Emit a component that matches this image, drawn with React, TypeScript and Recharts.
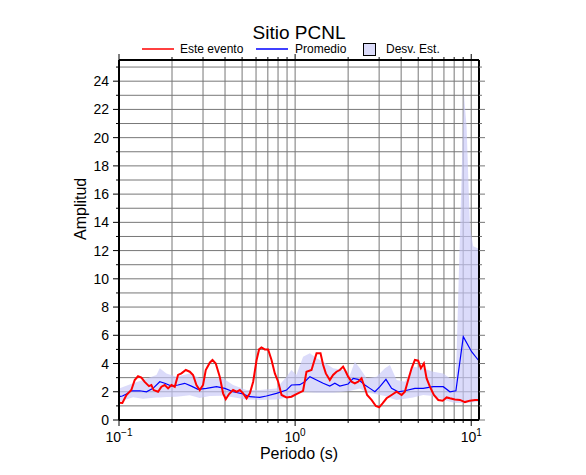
import { Area, CartesianGrid, ComposedChart, Line, XAxis, YAxis } from 'recharts'

const FONT = '"Liberation Sans", Arial, Helvetica, sans-serif'

// Este evento
const eventPeriod = [
  0.1, 0.1045, 0.1102, 0.1175, 0.1228, 0.1282, 0.134, 0.1399, 0.148, 0.1527, 0.1573, 0.1666, 0.1742, 0.1819,
  0.19, 0.1985, 0.2073, 0.2164, 0.2262, 0.2395, 0.2522, 0.2634, 0.2752, 0.2874, 0.3001, 0.3109, 0.3277, 0.3395,
  0.3543, 0.3733, 0.3899, 0.4038, 0.4217, 0.4444, 0.4648, 0.4853, 0.5068, 0.53, 0.5534, 0.5779, 0.6043, 0.6243,
  0.644, 0.6726, 0.7027, 0.7346, 0.7672, 0.8013, 0.8376, 0.8937, 0.9534, 1.017, 1.11, 1.16, 1.239, 1.323, 1.394,
  1.443, 1.494, 1.574, 1.643, 1.718, 1.794, 1.873, 1.941, 2.001, 2.091, 2.183, 2.28, 2.384, 2.456, 2.563, 2.716,
  2.874, 3.001, 3.137, 3.306, 3.53, 3.77, 4.025, 4.2, 4.386, 4.586, 4.788, 5.0, 5.177, 5.385, 5.58, 5.826, 6.136,
  6.5, 6.885, 7.249, 7.569, 8.078, 8.626, 9.21, 9.834, 10.5, 10.96,
]
const eventAmp = [
  1.22, 1.2, 1.77, 2.12, 2.83, 3.1, 3.0, 2.7, 2.4, 2.48, 2.12, 2.0, 2.36, 2.48,
  2.24, 2.48, 2.36, 3.19, 3.3, 3.54, 3.42, 3.19, 2.48, 2.12, 2.48, 3.54, 4.06, 4.25,
  4.0, 3.07, 1.89, 1.47, 1.84, 2.12, 2.0, 2.12, 1.89, 1.53, 1.89, 2.71, 4.25, 5.0,
  5.14, 5.0, 5.0, 4.25, 3.3, 2.71, 1.77, 1.6, 1.65, 1.84, 2.07, 3.42, 3.54, 4.72, 4.72,
  3.89, 3.3, 2.83, 3.19, 3.42, 3.54, 3.78, 3.42, 3.07, 2.71, 2.6, 2.71, 2.95, 2.48, 1.77, 1.42,
  0.99, 0.9, 1.18, 1.54, 1.77, 2.0, 1.77, 2.0, 2.83, 3.66, 4.25, 4.2, 3.66, 4.0, 2.95, 2.36, 1.77,
  1.42, 1.37, 1.6, 1.54, 1.46, 1.42, 1.27, 1.37, 1.42, 1.42,
]

// Promedio
const meanPeriod = [
  0.1, 0.1045, 0.1102, 0.1175, 0.1312, 0.1432, 0.1561, 0.1704, 0.1819, 0.1985, 0.2164, 0.2361, 0.2577, 0.2811,
  0.3138, 0.3575, 0.399, 0.4444, 0.5068, 0.5534, 0.6301, 0.6873, 0.7834, 0.8937, 0.9534, 1.064, 1.135, 1.213,
  1.323, 1.443, 1.574, 1.681, 1.794, 2.001, 2.137, 2.28, 2.49, 2.659, 2.839, 3.03, 3.279, 3.53, 3.845, 4.2, 4.788,
  5.335, 6.082, 6.938, 7.569, 8.185, 9.016, 10.05, 10.96,
]
const meanAmp = [
  1.65, 1.7, 1.84, 2.07, 2.07, 2.0, 2.24, 2.71, 2.6, 2.4, 2.48, 2.6, 2.4, 2.17,
  2.24, 2.36, 2.24, 2.0, 1.84, 1.65, 1.6, 1.7, 1.89, 2.12, 2.48, 2.5, 2.71, 3.07,
  2.83, 2.6, 2.4, 2.6, 2.4, 2.55, 2.95, 2.88, 2.48, 2.24, 2.0, 2.36, 2.88, 2.24, 2.0, 2.07, 2.24,
  2.24, 2.36, 2.36, 2.0, 2.07, 5.9, 4.84, 4.25,
]

// Desv. Est.
const sdPeriod = [
  0.1, 0.1201, 0.1368, 0.1632, 0.1704, 0.1859, 0.2118, 0.2522, 0.2874, 0.3277, 0.3899, 0.4444, 0.53, 0.6301,
  0.7834, 0.8937, 0.9534, 1.017, 1.11, 1.213, 1.323, 1.443, 1.643, 1.873, 2.047, 2.183, 2.334, 2.546, 2.898,
  3.237, 3.455, 3.77, 4.2, 4.677, 5.335, 6.082, 6.938, 7.569, 8.185, 9.084, 9.41, 9.834, 10.26, 10.96,
]
const sdLow = [
  1.3, 1.62, 1.5, 1.6, 1.6, 1.63, 1.65, 1.75, 1.56, 1.7, 1.72, 1.62, 1.45, 1.42,
  1.45, 1.6, 1.7, 1.8, 2.0, 1.97, 1.93, 1.93, 1.93, 2.0, 2.05, 2.15, 2.24, 1.95, 1.82,
  1.7, 1.55, 1.42, 1.5, 1.6, 1.77, 1.7, 1.45, 1.3, 1.2, 1.2, 1.2, 1.22, 1.25, 1.3,
]
const sdHigh = [
  2.24, 2.6, 2.83, 3.19, 3.66, 3.3, 3.07, 3.3, 2.95, 2.95, 2.95, 2.48, 2.12, 2.12,
  2.24, 3.07, 3.54, 3.19, 4.48, 4.72, 4.37, 4.13, 3.66, 3.54, 3.19, 4.13, 3.66, 2.95, 3.07,
  3.66, 3.89, 2.83, 2.71, 3.78, 3.66, 3.42, 3.3, 2.95, 2.9, 23.1, 20.8, 13.7, 12.3, 12.15,
]

const xTicks = [
  0.1, 0.2, 0.3, 0.4, 0.5, 0.6, 0.7, 0.8, 0.9, 1, 2, 3, 4, 5, 6, 7, 8, 9, 10,
]
const xMajor = [0.1, 1, 10]
const xLabels = ['\u22121', '0', '1']
const yTicks = [
  0, 1, 2, 3, 4, 5, 6, 7, 8, 9, 10, 11, 12, 13, 14, 15, 16, 17, 18, 19, 20, 21, 22, 23, 24, 25,
]

const eventData = eventPeriod.map((p, i) => ({ p, v: eventAmp[i] }))
const meanData = meanPeriod.map((p, i) => ({ p, v: meanAmp[i] }))
const sdData = sdPeriod.map((p, i) => ({ p, band: [sdLow[i], sdHigh[i]] }))

function BottomTick({ x, y, payload }: any) {
  const idx = xMajor.indexOf(payload.value)
  const len = idx >= 0 ? 6 : 3
  return (
    <g>
      <line x1={x} x2={x} y1={y} y2={y + len} stroke="#000" />
      {idx >= 0 && (
        <text x={x} y={y + 22} textAnchor="middle" fontSize={14} fontFamily={FONT} fill="#000">
          10<tspan dy={-6} fontSize={10}>{xLabels[idx]}</tspan>
        </text>
      )}
    </g>
  )
}

function TopTick({ x, y, payload }: any) {
  const len = xMajor.indexOf(payload.value) >= 0 ? 6 : 3
  return <line x1={x} x2={x} y1={y} y2={y - len} stroke="#000" />
}

function LeftTick({ x, y, payload }: any) {
  const major = payload.value % 2 === 0
  return (
    <g>
      <line x1={x} x2={x - (major ? 6 : 3)} y1={y} y2={y} stroke="#000" />
      {major && (
        <text x={x - 10} y={y + 5} textAnchor="end" fontSize={14} fontFamily={FONT} fill="#000">
          {payload.value}
        </text>
      )}
    </g>
  )
}

function RightTick({ x, y, payload }: any) {
  const major = payload.value % 2 === 0
  return <line x1={x} x2={x + (major ? 6 : 3)} y1={y} y2={y} stroke="#777" />
}

export default function App() {
  return (
    <div style={{ position: 'absolute', left: 0, top: 0, width: 586, height: 475, background: '#fff', fontFamily: FONT }}>
      <div style={{ position: 'absolute', left: 0, width: 598, top: 22, textAlign: 'center', fontSize: 19 }}>
        Sitio PCNL
      </div>
      <svg width={586} height={60} style={{ position: 'absolute', left: 0, top: 0 }}>
        <line x1={142} x2={174} y1={49} y2={49} stroke="#ff0000" strokeWidth={1.5} />
        <text x={180} y={53} fontSize={12} fontFamily={FONT}>Este evento</text>
        <line x1={256} x2={288} y1={49} y2={49} stroke="#0000ff" strokeWidth={1.5} />
        <text x={295} y={53} fontSize={12} fontFamily={FONT}>Promedio</text>
        <rect x={363.5} y={43.5} width={12} height={12} fill="#dcdcfa" stroke="#000" />
        <text x={386} y={53} fontSize={12} fontFamily={FONT}>Desv. Est.</text>
      </svg>
      <ComposedChart width={586} height={475} margin={{ top: 50, right: 97, bottom: 25, left: 69 }}>
        <CartesianGrid stroke="#777" strokeWidth={1} />
        <XAxis
          type="number"
          dataKey="p"
          scale="log"
          domain={[0.1, 11.07]}
          allowDataOverflow
          ticks={xTicks}
          interval={0}
          height={30}
          tickSize={0}
          tickMargin={0}
          tickLine={false}
          tick={<BottomTick />}
          axisLine={{ stroke: '#000', strokeWidth: 2 }}
        />
        <XAxis
          xAxisId="top"
          orientation="top"
          type="number"
          dataKey="p"
          scale="log"
          domain={[0.1, 11.07]}
          allowDataOverflow
          ticks={xTicks}
          interval={0}
          height={10}
          tickSize={0}
          tickMargin={0}
          tickLine={false}
          tick={<TopTick />}
          axisLine={{ stroke: '#000', strokeWidth: 2 }}
        />
        <YAxis
          type="number"
          domain={[0, 25.5]}
          allowDataOverflow
          ticks={yTicks}
          interval={0}
          width={50}
          tickSize={0}
          tickMargin={0}
          tickLine={false}
          tick={<LeftTick />}
          axisLine={{ stroke: '#000', strokeWidth: 2 }}
          label={{ value: 'Amplitud', angle: -90, position: 'insideLeft', offset: 0, dx: 11, fontSize: 16, fill: '#000', fontFamily: FONT }}
        />
        <YAxis
          yAxisId="right"
          orientation="right"
          type="number"
          domain={[0, 25.5]}
          allowDataOverflow
          ticks={yTicks}
          interval={0}
          width={10}
          tickSize={0}
          tickMargin={0}
          tickLine={false}
          tick={<RightTick />}
          axisLine={{ stroke: '#000', strokeWidth: 2 }}
        />
        <Area
          data={sdData}
          dataKey="band"
          type="linear"
          stroke="none"
          fill="#c8c8f8"
          fillOpacity={0.65}
          isAnimationActive={false}
        />
        <Line data={meanData} dataKey="v" type="linear" stroke="#0000ff" strokeWidth={1.2} dot={false} isAnimationActive={false} />
        <Line data={eventData} dataKey="v" type="linear" stroke="#ff0000" strokeWidth={2} dot={false} isAnimationActive={false} />
      </ComposedChart>
      <div style={{ position: 'absolute', left: 0, width: 598, top: 445, textAlign: 'center', fontSize: 16 }}>
        Periodo (s)
      </div>
    </div>
  )
}
